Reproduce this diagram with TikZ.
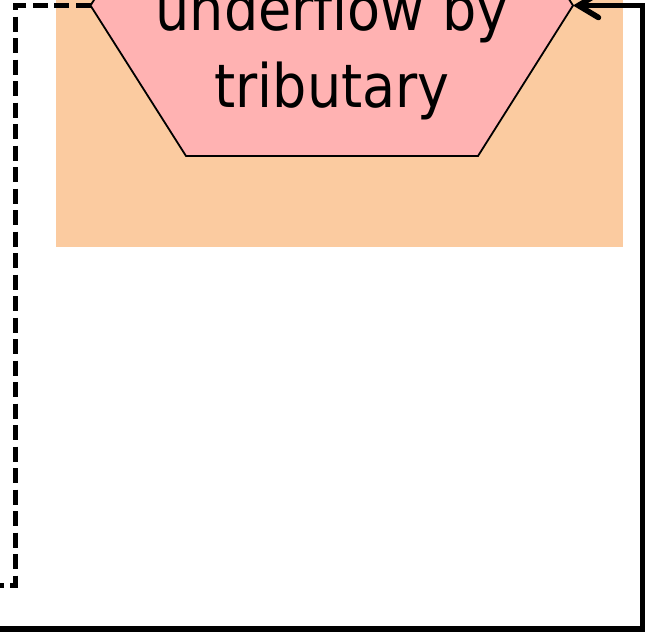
\documentclass[tikz,border=0pt]{standalone}
\usepackage{fontspec}
\setmainfont{DejaVu Sans Condensed}
\usetikzlibrary{arrows.meta}
\definecolor{bgorange}{RGB}{251,203,160}
\definecolor{hexpink}{RGB}{255,178,178}
\tikzset{
  solidlink/.style={line width=5.6pt, line join=miter},
  dashlink/.style={line width=5pt, dash pattern=on 15pt off 6.5pt},
  hextext/.style={align=center, font=\fontsize{60}{77}\selectfont, inner sep=0pt}
}
\begin{document}
\begin{tikzpicture}[x=1pt,y=-1pt]
\clip (0,0) rectangle (654,632);
\fill[bgorange] (56,-200) rectangle (623,246.5);
% hexagon vertices
\coordinate (hexL) at (90.5,5.5);
\coordinate (hexR) at (573,5.5);
\coordinate (hexBL) at (186,156);
\coordinate (hexBR) at (478,156);
\coordinate (hexTL) at (186,-145);
\coordinate (hexTR) at (478,-145);
\filldraw[fill=hexpink, draw=black, line width=1.8pt]
  (hexL) -- (hexTL) -- (hexTR) -- (hexR) -- (hexBR) -- (hexBL) -- cycle;
\node[hextext, anchor=base] (hexlabel) at (332,107) {tributary};
\node[hextext, anchor=base] (hexlabel2) at (332,30) {underflow by};
% connectors
\coordinate (dA) at (15.5,5.5);
\coordinate (dB) at (15.5,585);
\coordinate (dC) at (-30,585);
\draw[dashlink] (hexL) -- (dA) -- (dB) -- (dC);
\coordinate (sA) at (-30,629);
\coordinate (sB) at (642.5,629);
\coordinate (sC) at (642.5,5.5);
\draw[solidlink, -{Straight Barb[length=20pt,width=24pt,line cap=round]}] (sA) -- (sB) -- (sC) -- (hexR);
\end{tikzpicture}
\end{document}
